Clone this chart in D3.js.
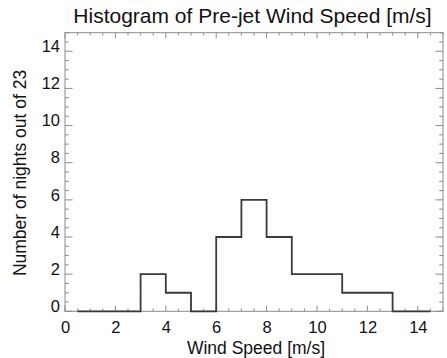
<!DOCTYPE html>
<html>
<head>
<meta charset="utf-8">
<script src="https://cdn.jsdelivr.net/npm/d3@7"></script>
<style>
  html, body { margin: 0; padding: 0; background: #fff; }
  svg { display: block; }
  text { font-family: "Liberation Sans", Arial, Helvetica, sans-serif; fill: #111; }
</style>
</head>
<body>
<svg id="chart" width="447" height="358"></svg>
<script>
// Histogram of pre-jet wind speed: bin centres (m/s) and counts of nights
const binCenters = [0.5, 1.5, 2.5, 3.5, 4.5, 5.5, 6.5, 7.5, 8.5, 9.5, 10.5, 11.5, 12.5, 13.5, 14.5];
const counts     = [0,   0,   0,   2,   1,   0,   4,   6,   4,   2,   2,    1,    1,    0,    0];
const xTickValues = [0, 2, 4, 6, 8, 10, 12, 14];
const yTickValues = [0, 2, 4, 6, 8, 10, 12, 14];
const titleText = "Histogram of Pre-jet Wind Speed [m/s]";
const xTitle = "Wind Speed [m/s]";
const yTitle = "Number of nights out of 23";

const svg = d3.select("#chart");
const plotL = 65, plotR = 443, plotT = 32.7, plotB = 311.3;
const W = plotR - plotL, H = plotB - plotT;

const x = d3.scaleLinear().domain([0, 15]).range([plotL, plotR]);
const y = d3.scaleLinear().domain([0, 15]).range([plotB, plotT]);

const axisColor = "#8a8a8a";
const majX = 0.02 * H, majY = 0.02 * W;
const minorX = d3.range(0, 15.01, 0.5);
const minorY = d3.range(0, 15.01, 0.5);

// Box frame with inward ticks on all four sides
const g = svg.append("g");
function tickSet(scale, values, len, minorVals, minorLen, orient) {
  const isMajor = v => values.some(m => Math.abs(m - v) < 1e-6);
  minorVals.forEach(v => {
    const L = isMajor(v) ? len : minorLen;
    const p = scale(v);
    let x1, y1, x2, y2;
    if (orient === "bottom") { x1 = x2 = p; y1 = plotB; y2 = plotB - L; }
    if (orient === "top")    { x1 = x2 = p; y1 = plotT; y2 = plotT + L; }
    if (orient === "left")   { y1 = y2 = p; x1 = plotL; x2 = plotL + L; }
    if (orient === "right")  { y1 = y2 = p; x1 = plotR; x2 = plotR - L; }
    g.append("line").attr("x1", x1).attr("y1", y1).attr("x2", x2).attr("y2", y2)
      .attr("stroke", axisColor).attr("stroke-width", 1);
  });
}
tickSet(x, xTickValues, majX, minorX, majX / 2, "bottom");
tickSet(x, xTickValues, majX, minorX, majX / 2, "top");
tickSet(y, yTickValues, majY, minorY, majY / 2, "left");
tickSet(y, yTickValues, majY, minorY, majY / 2, "right");

g.append("rect").attr("x", plotL).attr("y", plotT).attr("width", W).attr("height", H)
  .attr("fill", "none").attr("stroke", axisColor).attr("stroke-width", 1);

// Tick labels via d3 axes (tick lines hidden, labels only)
const xAxis = d3.axisBottom(x).tickValues(xTickValues).tickSize(0).tickPadding(10).tickFormat(d3.format("d"));
const gx = svg.append("g").attr("transform", `translate(0,${plotB})`).call(xAxis);
gx.select(".domain").remove();
gx.selectAll("text").attr("font-size", 16.5).attr("fill", "#111")
  .attr("font-family", "Liberation Sans, Arial, sans-serif");

const yAxis = d3.axisLeft(y).tickValues(yTickValues).tickSize(0).tickPadding(5).tickFormat(d3.format("d"));
const gy = svg.append("g").attr("transform", `translate(${plotL},-5)`).call(yAxis);
gy.select(".domain").remove();
gy.selectAll("text").attr("font-size", 16.5).attr("fill", "#111")
  .attr("font-family", "Liberation Sans, Arial, sans-serif");

// Stepped histogram outline
const line = d3.line().x((d, i) => x(binCenters[i])).y(d => y(d)).curve(d3.curveStep);
svg.append("path").datum(counts).attr("d", line)
  .attr("fill", "none").attr("stroke", "#3a3a3a").attr("stroke-width", 1.8);

// Titles
svg.append("text").attr("x", 252.5).attr("y", 22.5).attr("text-anchor", "middle")
  .attr("font-size", 21).text(titleText);
svg.append("text").attr("x", 256).attr("y", 353.5).attr("text-anchor", "middle")
  .attr("font-size", 17.5).text(xTitle);
svg.append("text").attr("transform", `translate(26,173) rotate(-90)`)
  .attr("text-anchor", "middle").attr("font-size", 17.5).text(yTitle);
</script>
</body>
</html>
